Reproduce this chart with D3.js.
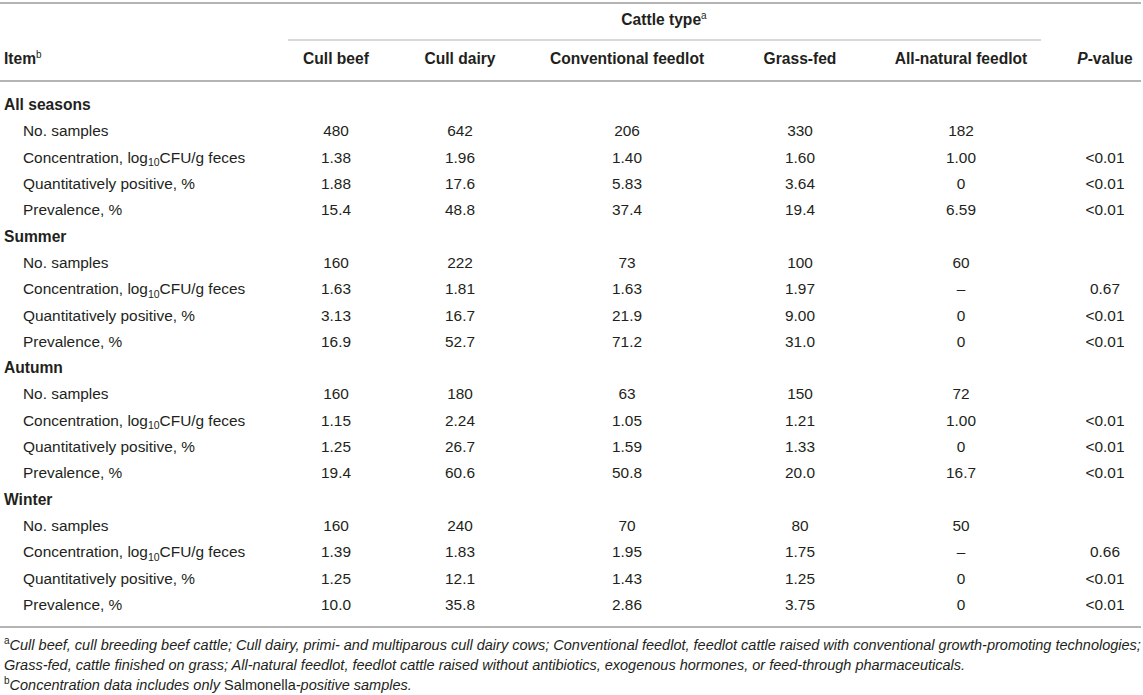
<!DOCTYPE html>
<html>
<head>
<meta charset="utf-8">
<script src="https://cdn.jsdelivr.net/npm/d3@7"></script>
<style>
  body { margin: 0; background: #fff; }
  svg { display: block; font-family: "Liberation Sans", Arial, Helvetica, sans-serif; }
</style>
</head>
<body>
<svg id="s" width="1143" height="695"></svg>
<script>
// columns and row labels
var cattleTypes = ["Cull beef", "Cull dairy", "Conventional feedlot", "Grass-fed", "All-natural feedlot"];
var seasons = ["All seasons", "Summer", "Autumn", "Winter"];
var items = ["No. samples", "Concentration", "Quantitatively positive, %", "Prevalence, %"];

// values per season, one array per item, in cattle type order (null = no value)
var allSamples = [480, 642, 206, 330, 182];
var allConc    = [1.38, 1.96, 1.40, 1.60, 1.00];
var allQuant   = [1.88, 17.6, 5.83, 3.64, 0];
var allPrev    = [15.4, 48.8, 37.4, 19.4, 6.59];
var allP       = ["", "<0.01", "<0.01", "<0.01"];

var sumSamples = [160, 222, 73, 100, 60];
var sumConc    = [1.63, 1.81, 1.63, 1.97, null];
var sumQuant   = [3.13, 16.7, 21.9, 9.00, 0];
var sumPrev    = [16.9, 52.7, 71.2, 31.0, 0];
var sumP       = ["", "0.67", "<0.01", "<0.01"];

var autSamples = [160, 180, 63, 150, 72];
var autConc    = [1.15, 2.24, 1.05, 1.21, 1.00];
var autQuant   = [1.25, 26.7, 1.59, 1.33, 0];
var autPrev    = [19.4, 60.6, 50.8, 20.0, 16.7];
var autP       = ["", "<0.01", "<0.01", "<0.01"];

var winSamples = [160, 240, 70, 80, 50];
var winConc    = [1.39, 1.83, 1.95, 1.75, null];
var winQuant   = [1.25, 12.1, 1.43, 1.25, 0];
var winPrev    = [10.0, 35.8, 2.86, 3.75, 0];
var winP       = ["", "0.66", "<0.01", "<0.01"];

var blocks = [
  [allSamples, allConc, allQuant, allPrev, allP],
  [sumSamples, sumConc, sumQuant, sumPrev, sumP],
  [autSamples, autConc, autQuant, autPrev, autP],
  [winSamples, winConc, winQuant, winPrev, winP]
];

// flatten into table rows
var rows = [];
seasons.forEach(function(s, i) {
  rows.push({type: "section", label: s});
  items.forEach(function(it, j) {
    rows.push({type: "item", label: it, item: j, values: blocks[i][j], p: blocks[i][4][j]});
  });
});

var svg = d3.select("#s");
var ink = "#231f20";
var rule = "#b4b4b4";
var base = 5; // baseline offset from row centre
var fs = 15.4, fsHead = 15.6;

var x = d3.scaleOrdinal().domain(cattleTypes.concat(["P"])).range([336, 460, 627, 800, 961, 1105]);
var y = d3.scaleLinear().domain([0, rows.length - 1]).range([105, 605]);

var fmtInt = d3.format("d");
var fmt3 = d3.format(".3r");
var cell = function(v, j) {
  if (v === null) return "\u2013";
  if (v === 0) return "0";
  return j === 0 ? fmtInt(v) : fmt3(v);
};

// rules
svg.append("line").attr("x1", 0).attr("x2", 1141).attr("y1", 3).attr("y2", 3)
  .attr("stroke", rule).attr("stroke-width", 2);
svg.append("line").attr("x1", 288).attr("x2", 1041).attr("y1", 40).attr("y2", 40)
  .attr("stroke", rule).attr("stroke-width", 1.2);
svg.append("line").attr("x1", 0).attr("x2", 1141).attr("y1", 81).attr("y2", 81)
  .attr("stroke", rule).attr("stroke-width", 2);
svg.append("line").attr("x1", 0).attr("x2", 1141).attr("y1", 627).attr("y2", 627)
  .attr("stroke", rule).attr("stroke-width", 2);

// header
var ct = svg.append("text").attr("x", 664).attr("y", 20 + base)
  .attr("text-anchor", "middle").attr("font-size", fsHead).attr("font-weight", "bold").attr("fill", ink);
ct.append("tspan").text("Cattle type");
ct.append("tspan").attr("font-size", 10).attr("dy", -6).attr("font-weight", "normal").text("a");

var it = svg.append("text").attr("x", 4).attr("y", 59 + base)
  .attr("font-size", fsHead).attr("font-weight", "bold").attr("fill", ink);
it.append("tspan").text("Item");
it.append("tspan").attr("font-size", 10).attr("dy", -6).attr("font-weight", "normal").text("b");

svg.selectAll("text.colhead").data(cattleTypes).enter().append("text")
  .attr("class", "colhead")
  .attr("x", function(d) { return x(d); })
  .attr("y", 59 + base)
  .attr("text-anchor", "middle").attr("font-size", fsHead).attr("font-weight", "bold").attr("fill", ink)
  .text(function(d) { return d; });

var ph = svg.append("text").attr("x", x("P")).attr("y", 59 + base)
  .attr("text-anchor", "middle").attr("font-size", fsHead).attr("font-weight", "bold").attr("fill", ink);
ph.append("tspan").attr("font-style", "italic").text("P");
ph.append("tspan").text("-value");

// body rows
var g = svg.selectAll("g.row").data(rows).enter().append("g")
  .attr("class", "row")
  .attr("transform", function(d, i) { return "translate(0," + y(i) + ")"; });

g.append("text")
  .attr("x", function(d) { return d.type === "section" ? 4 : 23; })
  .attr("y", base)
  .attr("font-size", function(d) { return d.type === "section" ? fsHead : fs; })
  .attr("font-weight", function(d) { return d.type === "section" ? "bold" : "normal"; })
  .attr("fill", ink)
  .each(function(d) {
    var t = d3.select(this);
    if (d.type === "item" && d.item === 1) {
      t.append("tspan").text("Concentration, log");
      t.append("tspan").attr("font-size", 10.5).attr("dy", 3.5).text("10");
      t.append("tspan").attr("dy", -3.5).text("CFU/g feces");
    } else {
      t.text(d.label);
    }
  });

var items_g = g.filter(function(d) { return d.type === "item"; });

items_g.selectAll("text.val")
  .data(function(d) { return d.values.map(function(v, k) { return {v: v, k: k, j: d.item}; }); })
  .enter().append("text")
  .attr("class", "val")
  .attr("x", function(d) { return x(cattleTypes[d.k]); })
  .attr("y", base)
  .attr("text-anchor", "middle").attr("font-size", fs).attr("fill", ink)
  .text(function(d) { return cell(d.v, d.j); });

items_g.append("text")
  .attr("x", x("P"))
  .attr("y", base)
  .attr("text-anchor", "middle").attr("font-size", fs).attr("fill", ink)
  .text(function(d) { return d.p; });

// footnotes
var notes = [
  {sup: "a", parts: [["Cull beef, cull breeding beef cattle; Cull dairy, primi- and multiparous cull dairy cows; Conventional feedlot, feedlot cattle raised with conventional growth-promoting technologies;", true]]},
  {sup: "", parts: [["Grass-fed, cattle finished on grass; All-natural feedlot, feedlot cattle raised without antibiotics, exogenous hormones, or feed-through pharmaceuticals.", true]]},
  {sup: "b", parts: [["Concentration data includes only ", true], ["Salmonella", false], ["-positive samples.", true]]}
];
var noteY = d3.scaleLinear().domain([0, 2]).range([645, 685]);

svg.selectAll("text.note").data(notes).enter().append("text")
  .attr("class", "note")
  .attr("x", 4)
  .attr("y", function(d, i) { return noteY(i) + base; })
  .attr("font-size", 14.5).attr("fill", ink)
  .each(function(d) {
    var t = d3.select(this);
    if (d.sup) t.append("tspan").attr("font-size", 10).attr("dy", -6).text(d.sup);
    d.parts.forEach(function(p, k) {
      var s = t.append("tspan").attr("font-style", p[1] ? "italic" : "normal").text(p[0]);
      if (d.sup && k === 0) s.attr("dy", 6);
    });
  });
</script>
</body>
</html>
